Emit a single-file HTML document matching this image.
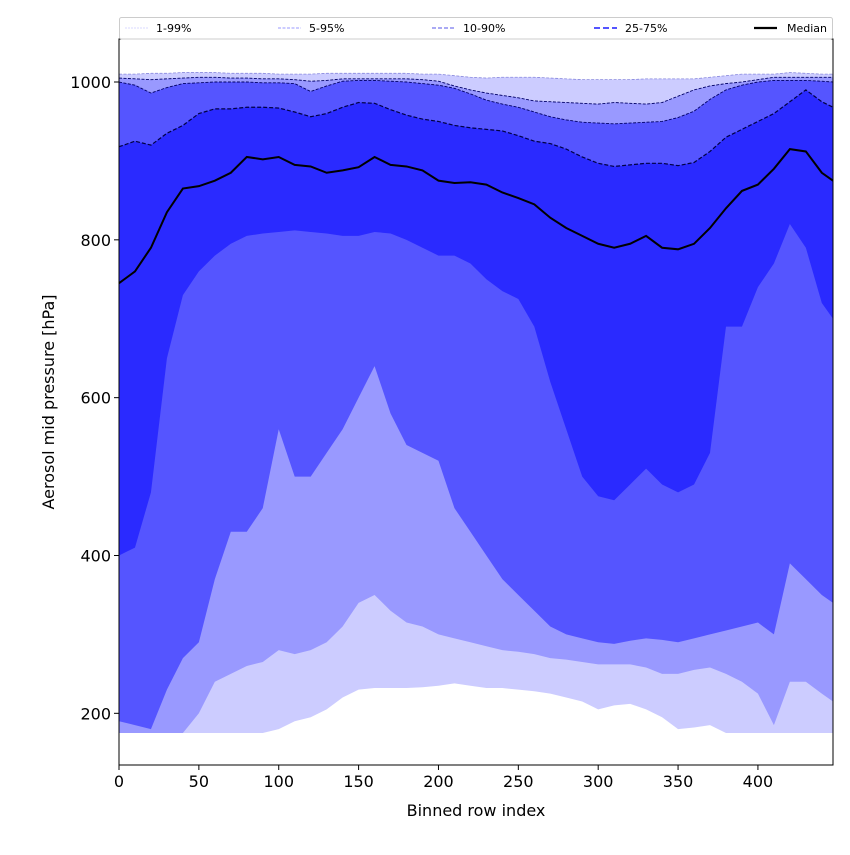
<!DOCTYPE html>
<html><head><meta charset="utf-8"><style>
body{margin:0;background:#fff;}
svg text{font-family:"DejaVu Sans","Liberation Sans",sans-serif;}
</style></head><body>
<svg id="chart" width="850" height="850" xmlns="http://www.w3.org/2000/svg">
<g id="bands"></g>
<g id="lines"></g>
<g id="axes"></g>
<g id="legend"></g>
</svg>
<script>
const xs=[0,10,20,30,40,50,60,70,80,90,100,110,120,130,140,150,160,170,180,190,200,210,220,230,240,250,260,270,280,290,300,310,320,330,340,350,360,370,380,390,400,410,420,430,440,447];
const p99=[1010,1010,1011,1011,1012,1012,1012,1011,1011,1011,1010,1010,1010,1011,1011,1011,1011,1011,1011,1010,1010,1008,1006,1005,1006,1006,1006,1005,1004,1003,1003,1003,1003,1004,1004,1004,1004,1006,1008,1010,1010,1010,1012,1011,1010,1010];
const p95=[1005,1004,1003,1004,1005,1006,1006,1005,1005,1004,1004,1003,1001,1002,1004,1004,1004,1004,1004,1003,1001,995,990,986,983,980,976,975,974,973,972,974,973,972,974,982,990,995,998,1000,1003,1006,1006,1006,1006,1006];
const p90=[1000,996,986,993,998,999,1000,1000,1000,999,999,998,988,995,1001,1002,1002,1001,1000,998,996,992,985,977,972,968,962,956,952,949,948,947,948,949,950,955,963,978,990,996,1000,1002,1002,1002,1001,1000];
const p75=[918,925,920,935,945,960,966,966,968,968,967,962,956,960,968,974,973,965,958,953,950,945,942,940,938,932,925,922,915,905,897,893,895,897,897,894,898,912,930,940,950,960,975,990,975,968];
const median=[745,760,790,835,865,868,875,885,905,902,905,895,893,885,888,892,905,895,893,888,875,872,873,870,860,853,845,828,815,805,795,790,795,805,790,788,795,815,840,862,870,890,915,912,885,875];
const p25=[400,410,480,650,730,760,780,795,805,808,810,812,810,808,805,805,810,808,800,790,780,780,770,750,735,725,690,620,560,500,475,470,490,510,490,480,490,530,690,690,740,770,820,790,720,700];
const p10=[190,185,180,230,270,290,370,430,430,460,560,500,500,530,560,600,640,580,540,530,520,460,430,400,370,350,330,310,300,295,290,288,292,295,293,290,295,300,305,310,315,300,390,370,350,340];
const p5=[175,175,175,175,175,200,240,250,260,265,280,275,280,290,310,340,350,330,315,310,300,295,290,285,280,278,275,270,268,265,262,262,262,258,250,250,255,258,250,240,225,185,240,240,225,215];
const p1=[175,175,175,175,175,175,175,175,175,175,180,190,195,205,220,230,232,232,232,233,235,238,235,232,232,230,228,225,220,215,205,210,212,205,195,180,182,185,175,175,175,175,175,175,175,175];
const xTicks=[0,50,100,150,200,250,300,350,400];
const yTicks=[200,400,600,800,1000];
const legendLabels=["1-99%","5-95%","10-90%","25-75%","Median"];

const NS="http://www.w3.org/2000/svg";
const L=119,R=833,T=39,B=765,XMIN=0,XMAX=447,YMIN=134.5,YMAX=1054.5;
const sx=v=>L+(v-XMIN)/(XMAX-XMIN)*(R-L);
const sy=v=>B-(v-YMIN)/(YMAX-YMIN)*(B-T);
function mk(tag,parent,attrs){const e=document.createElementNS(NS,tag);for(const k in attrs)e.setAttribute(k,attrs[k]);parent.appendChild(e);return e;}
const bands=document.getElementById('bands'),lines=document.getElementById('lines'),axes=document.getElementById('axes'),legend=document.getElementById('legend');
function band(up,lo,color,name){
  let pts=xs.map((x,i)=>sx(x)+','+sy(up[i]));
  for(let i=xs.length-1;i>=0;i--)pts.push(sx(xs[i])+','+sy(lo[i]));
  const p=mk('polygon',bands,{points:pts.join(' '),fill:color});
  
  
}
band(p99,p1,'#ccccff','band-1-99');
band(p95,p5,'#9999ff','band-5-95');
band(p90,p10,'#5555ff','band-10-90');
band(p75,p25,'#2a2aff','band-25-75');
function line(arr,color,w,dash,name){
  const p=mk('polyline',lines,{points:xs.map((x,i)=>sx(x)+','+sy(arr[i])).join(' '),fill:'none',stroke:color,'stroke-width':w});
  if(dash)p.setAttribute('stroke-dasharray',dash);
  
  
}
line(p99,'#8888dd',0.8,'3,1.5','line-p99');
line(p95,'#000066',0.9,'3,1.5','line-p95');
line(p90,'#000066',0.9,'3,1.5','line-p90');
line(p75,'#000044',1.2,'4,2','line-p75');
line(median,'#000',2,null,'median-line');
const fr=mk('rect',axes,{x:L,y:T,width:R-L,height:B-T,fill:'none',stroke:'#000','stroke-width':1});


xTicks.forEach(v=>{
  const x=sx(v);
  const t=mk('line',axes,{x1:x,x2:x,y1:B,y2:B+5,stroke:'#000'});
  
  
  const tx=mk('text',axes,{x:x,y:B+22,'text-anchor':'middle','font-size':16});
  tx.textContent=v;
  
  
});
yTicks.forEach(v=>{
  const y=sy(v);
  const t=mk('line',axes,{x1:L-5,x2:L,y1:y,y2:y,stroke:'#000'});
  
  
  const tx=mk('text',axes,{x:L-8,y:y+6,'text-anchor':'end','font-size':16});
  tx.textContent=v;
  
  
});
const xl=mk('text',axes,{x:476,y:816,'text-anchor':'middle','font-size':16});
xl.textContent='Binned row index';


const yl=mk('text',axes,{x:54,y:402,'text-anchor':'middle','font-size':16,transform:'rotate(-90 54 402)'});
yl.textContent='Aerosol mid pressure [hPa]';


const lb=mk('rect',legend,{x:119.5,y:17.5,width:713,height:21.5,fill:'#fff',stroke:'#ccc','stroke-width':1,rx:2});


const lx=[125,278,432,594,754];
const lstyle=[['#ccccff',0.8,'2,1'],['#9999ff',1,'3,1.5'],['#7777ee',1.3,'4,2'],['#5555ff',2,'6,3'],['#000',2.2,null]];
legendLabels.forEach((s,i)=>{
  const g=mk('g',legend,{});
  
  
  const ln=mk('line',g,{x1:lx[i],x2:lx[i]+23,y1:28,y2:28,stroke:lstyle[i][0],'stroke-width':lstyle[i][1]});
  if(lstyle[i][2])ln.setAttribute('stroke-dasharray',lstyle[i][2]);
  const t=mk('text',g,{x:lx[i]+31+(i==4?2:0),y:32,'font-size':11});
  t.textContent=s;
});
</script>
</body></html>
